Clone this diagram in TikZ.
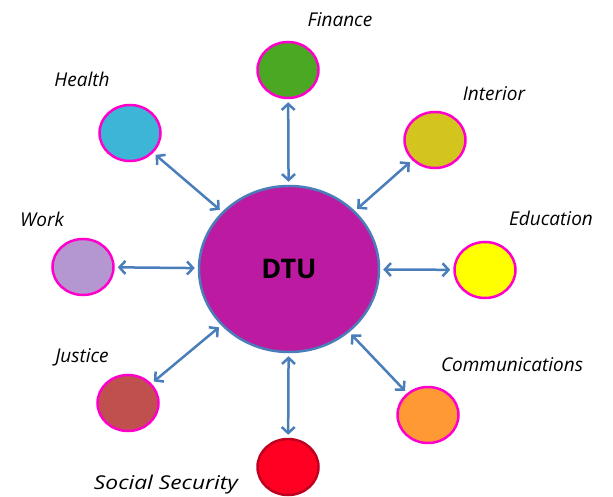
\documentclass[tikz,border=0pt]{standalone}
\usepackage{fontspec}
\setmainfont{Open Sans}
\usetikzlibrary{shapes.geometric,arrows.meta}
\definecolor{linkblue}{HTML}{4A7EBB}
\definecolor{ringpink}{HTML}{FF00CC}
\definecolor{dtufill}{HTML}{BC1AA0}
\tikzset{
  small/.style={ellipse, draw=ringpink, line width=2.5pt, minimum width=61pt, minimum height=56pt, inner sep=0pt},
  hub/.style={ellipse, draw=linkblue, line width=2.5pt, fill=dtufill, minimum width=180pt, minimum height=166pt, inner sep=0pt, font=\bfseries\fontsize{27}{30}\selectfont},
  lbl/.style={font=\itshape\fontsize{19}{22}\selectfont, inner sep=0pt},
  link/.style={draw=linkblue, line width=2.5pt, {Straight Barb[length=6pt,width=13pt]}-{Straight Barb[length=6pt,width=13pt]}, shorten <=3pt, shorten >=3pt}
}
\begin{document}
\begin{tikzpicture}[x=1pt,y=-1pt]
\useasboundingbox (0,0) rectangle (613,497);
\node[hub] (dtu) at (289,269) {DTU};
\node[small, fill={rgb,255:red,74;green,168;blue,34}] (fin) at (288,70) {};
\node[small, fill={rgb,255:red,61;green,181;blue,214}] (hea) at (130,133) {};
\node[small, fill={rgb,255:red,212;green,196;blue,30}] (int) at (435,140) {};
\node[small, fill={rgb,255:red,180;green,151;blue,208}] (wor) at (83,267) {};
\node[small, fill={rgb,255:red,255;green,255;blue,0}] (edu) at (485,270) {};
\node[small, fill={rgb,255:red,192;green,80;blue,77}] (jus) at (128,403) {};
\node[small, fill={rgb,255:red,255;green,153;blue,51}] (com) at (428,415) {};
\node[small, draw={rgb,255:red,192;green,0;blue,32}, fill={rgb,255:red,255;green,0;blue,34}] (soc) at (288,467) {};
\node[lbl] (finl) at (340,20) {Finance};
\node[lbl] (heal) at (82,79) {Health};
\node[lbl] (intl) at (494,94) {Interior};
\node[lbl] (worl) at (42,219) {Work};
\node[lbl] (edul) at (551,218) {Education};
\node[lbl] (jusl) at (82,357) {Justice};
\node[lbl] (coml) at (512,365) {Communications};
\node[lbl, xscale=1.2] (socl) at (166,485) {Social Security};
\draw[link] (dtu) -- (fin);
\draw[link] (dtu) -- (hea);
\draw[link] (dtu) -- (int);
\draw[link] (dtu) -- (wor);
\draw[link] (dtu) -- (edu);
\draw[link] (dtu) -- (jus);
\draw[link] (dtu) -- (com);
\draw[link] (dtu) -- (soc);
\end{tikzpicture}
\end{document}
